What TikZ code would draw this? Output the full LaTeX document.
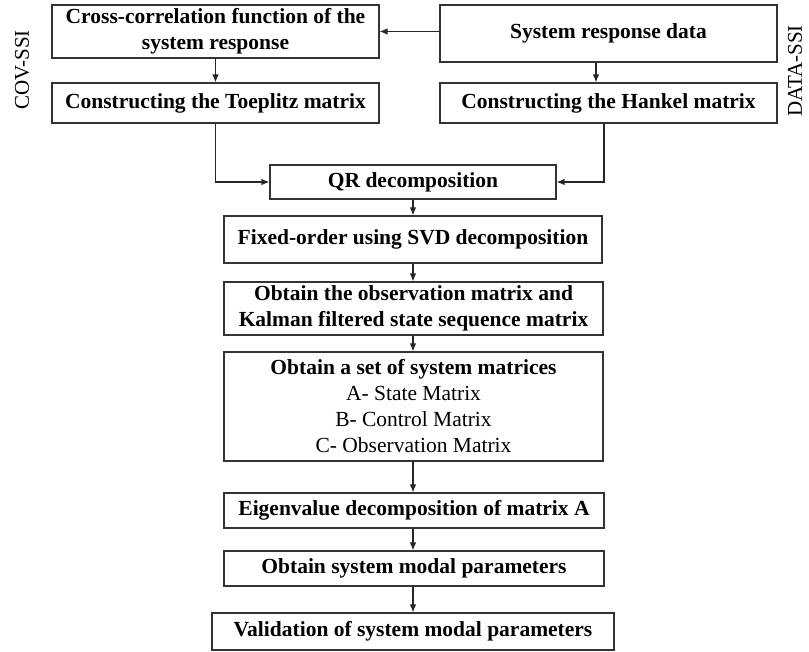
\documentclass[tikz,border=0pt]{standalone}
\usepackage{fontspec}
\setmainfont{Liberation Serif}
\usetikzlibrary{arrows.meta}
\begin{document}
\begin{tikzpicture}[x=1pt,y=-1pt,
  box/.style={draw=black!80, line width=1.1pt, inner sep=0pt, align=center,
    font=\fontsize{21.5}{26}\selectfont\bfseries},
  side/.style={inner sep=0pt, rotate=90, font=\fontsize{21}{25}\selectfont},
  arr/.style={draw=black!85, line width=1.2pt, -{Latex[length=8pt,width=6.5pt]}},
  lnk/.style={draw=black!85, line width=1.2pt}]
\clip (0,0) rectangle (809,651);
% top row
\node[box, minimum width=327pt, minimum height=53pt] (cc) at (215.5,31.5)
  {Cross-correlation function of the\\system response};
\node[box, minimum width=337pt, minimum height=57pt] (srd) at (608.5,33.5)
  {System response data};
\node[box, minimum width=327pt, minimum height=40pt] (toe) at (215.5,103)
  {Constructing the Toeplitz matrix};
\node[box, minimum width=337pt, minimum height=40pt] (hank) at (608.5,103)
  {Constructing the Hankel matrix};
% central column
\node[box, minimum width=286pt, minimum height=34pt] (qr) at (413,182)
  {QR decomposition};
\node[box, minimum width=378pt, minimum height=47pt] (svd) at (413,239.5)
  {Fixed-order using SVD decomposition};
\node[box, minimum width=379pt, minimum height=53pt] (obs) at (413.5,308.5)
  {Obtain the observation matrix and\\Kalman filtered state sequence matrix};
\node[box, minimum width=379pt, minimum height=109pt] (set) at (413.5,406.5)
  {Obtain a set of system matrices\\{\mdseries A- State Matrix}\\{\mdseries B- Control Matrix}\\{\mdseries C- Observation Matrix}};
\node[box, minimum width=380pt, minimum height=35pt] (eig) at (414,510.5)
  {Eigenvalue decomposition of matrix A};
\node[box, minimum width=380pt, minimum height=35pt] (mod) at (414,568.5)
  {Obtain system modal parameters};
\node[box, minimum width=402pt, minimum height=37pt] (val) at (413,631.5)
  {Validation of system modal parameters};
% side labels
\node[side] (cov) at (22,70) {COV-SSI};
\node[side] (data) at (795,71) {DATA-SSI};
% connectors
\draw[arr] (srd.west |- cc.east) -- (cc.east);
\draw[arr] (cc.south) -- (toe.north);
\draw[arr] (srd.south -| 596,0) -- (hank.north -| 596,0);
\draw[arr] (toe.south) |- (qr.west);
\draw[arr] (hank.south -| 604,0) |- (qr.east);
\draw[arr] (qr.south) -- (svd.north -| qr.south);
\draw[arr] (svd.south -| qr.south) -- (obs.north -| qr.south);
\draw[arr] (obs.south -| qr.south) -- (set.north -| qr.south);
\draw[arr] (set.south -| qr.south) -- (eig.north -| qr.south);
\draw[arr] (eig.south -| qr.south) -- (mod.north -| qr.south);
\draw[arr] (mod.south -| qr.south) -- (val.north -| qr.south);
\end{tikzpicture}
\end{document}
